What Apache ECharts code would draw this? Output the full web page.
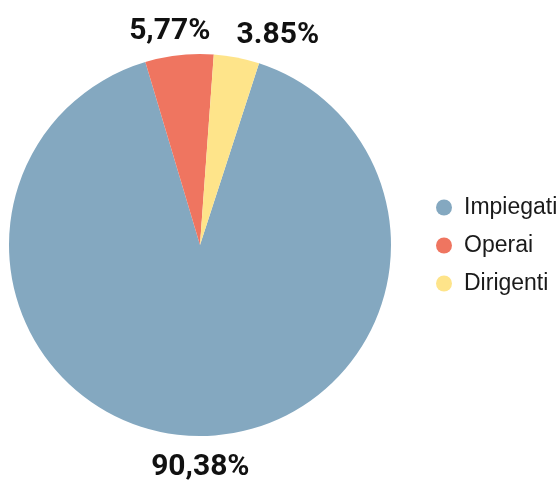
<!DOCTYPE html>
<html>
<head>
<meta charset="utf-8">
<script src="https://cdn.jsdelivr.net/npm/echarts@6/dist/echarts.min.js"></script>
<style>
  html, body { margin: 0; padding: 0; background: #ffffff; }
  #chart { width: 560px; height: 480px; }
</style>
</head>
<body>
<div id="chart"></div>
<script>
// Personale per qualifica (percentuali)
const categories = ['Impiegati', 'Operai', 'Dirigenti'];
const shares = [90.38, 5.77, 3.85];
const shareLabels = ['90,38%', '5,77%', '3.85%'];
const colors = ['#84a8c0', '#ef7560', '#fee48a'];
// small nudges so the two narrow slices' labels do not collide
const labelNudges = [[3, 0], [-6, 8], [35, 9]];

const chart = echarts.init(document.getElementById('chart'), null, { renderer: 'canvas' });

const center = [200, 245];
const startAngle = 72;

const sliceData = categories.map((name, i) => ({
  name: name,
  value: shares[i],
  itemStyle: { color: colors[i] }
}));

const labelData = categories.map((name, i) => ({
  name: name,
  value: shares[i],
  itemStyle: { color: 'rgba(0,0,0,0)' },
  label: { formatter: shareLabels[i], offset: labelNudges[i] }
}));

chart.setOption({
  animation: false,
  color: colors,
  legend: {
    orient: 'vertical',
    left: 431,
    top: 191,
    icon: 'circle',
    itemWidth: 30,
    itemHeight: 16,
    itemGap: 15,
    data: categories,
    textStyle: {
      fontFamily: '"Liberation Sans", Arial, sans-serif',
      fontSize: 23,
      color: '#1a1a1a'
    }
  },
  series: [
    {
      type: 'pie',
      center: center,
      radius: [0, 191],
      startAngle: startAngle,
      clockwise: true,
      silent: true,
      label: { show: false },
      labelLine: { show: false },
      data: sliceData
    },
    {
      type: 'pie',
      center: center,
      radius: [200, 240],
      startAngle: startAngle,
      clockwise: true,
      silent: true,
      labelLine: { show: false },
      label: {
        show: true,
        position: 'inside',
        fontFamily: 'Roboto, sans-serif',
        fontWeight: 'bold',
        fontSize: 30,
        color: '#111111'
      },
      data: labelData
    }
  ]
});
</script>
</body>
</html>
